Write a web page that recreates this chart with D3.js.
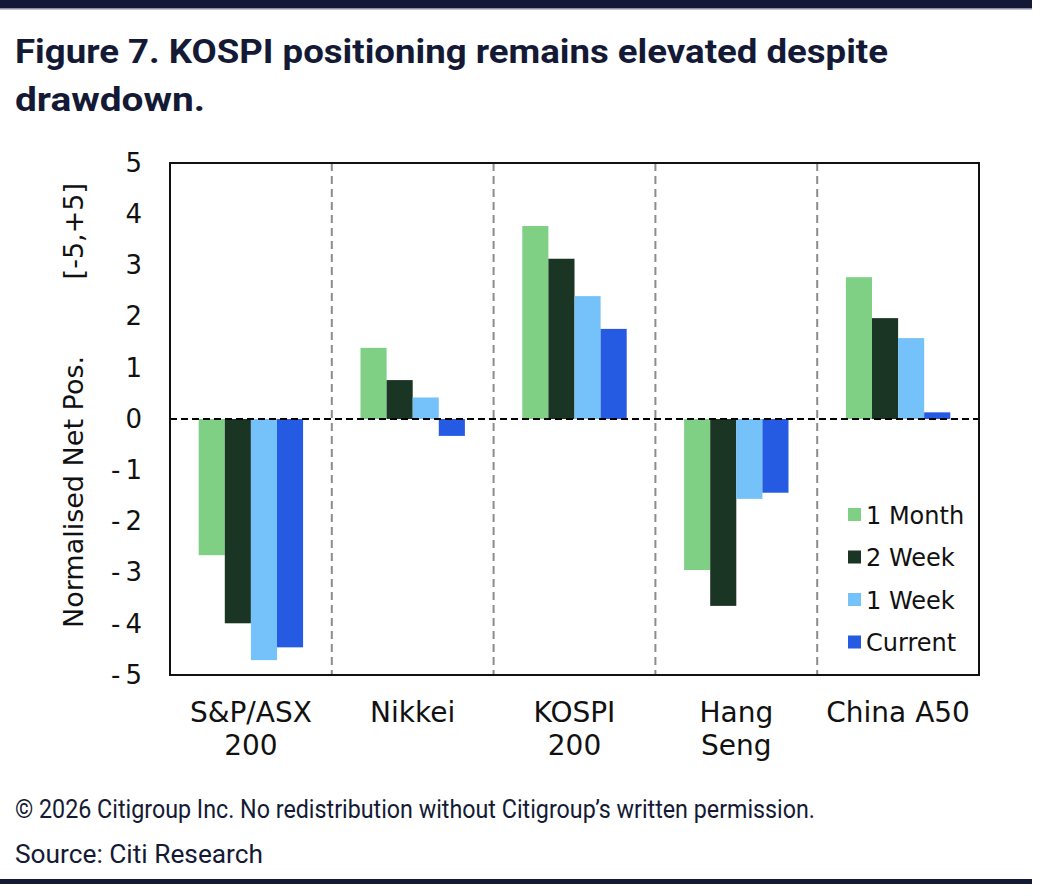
<!DOCTYPE html>
<html>
<head>
<meta charset="utf-8">
<title>Figure 7</title>
<script src="https://d3js.org/d3.v7.min.js"></script>
<style>
  body { margin: 0; background: #fff; }
  svg text { font-family: "DejaVu Sans", "Liberation Sans", Arial, sans-serif; }
</style>
</head>
<body>
<svg id="chart" width="1044" height="896"></svg>
<script>
// chart data
var categories = ["S&P/ASX 200", "Nikkei", "KOSPI 200", "Hang Seng", "China A50"];
var catLines = [["S&P/ASX", "200"], ["Nikkei"], ["KOSPI", "200"], ["Hang", "Seng"], ["China A50"]];
var seriesNames = ["1 Month", "2 Week", "1 Week", "Current"];
var oneMonth = [-2.66, 1.39, 3.77, -2.95, 2.77];
var twoWeek  = [-3.99, 0.76, 3.13, -3.65, 1.97];
var oneWeek  = [-4.71, 0.42, 2.40, -1.56, 1.58];
var current  = [-4.46, -0.33, 1.76, -1.44, 0.13];
var yTicks = [5, 4, 3, 2, 1, 0, -1, -2, -3, -4, -5];
var colors = ["#7fcf84", "#1b3524", "#75c2fb", "#255be3"];

var seriesValues = [oneMonth, twoWeek, oneWeek, current];

var svg = d3.select("#chart");
var navy = "#141a35";

// top and bottom rules
svg.append("rect").attr("x", 0).attr("y", 0).attr("width", 1032).attr("height", 8).attr("fill", navy);
svg.append("rect").attr("x", 0).attr("y", 8).attr("width", 1032).attr("height", 1.5).attr("fill", "#8a8fa3");
svg.append("rect").attr("x", 0).attr("y", 879).attr("width", 1032).attr("height", 5).attr("fill", navy);

// title
var title = svg.append("g").attr("fill", navy).style("font-weight", "700");
title.append("text").attr("x", 15).attr("y", 63)
  .style("font-family", "Roboto, sans-serif").style("font-size", "34px")
  .attr("textLength", 873).attr("lengthAdjust", "spacingAndGlyphs")
  .text("Figure 7. KOSPI positioning remains elevated despite");
title.append("text").attr("x", 15).attr("y", 111)
  .style("font-family", "Roboto, sans-serif").style("font-size", "34px")
  .attr("textLength", 190).attr("lengthAdjust", "spacingAndGlyphs")
  .text("drawdown.");

// footer
svg.append("text").attr("x", 15).attr("y", 818).attr("fill", navy)
  .style("font-family", "Roboto, sans-serif").style("font-size", "25px")
  .attr("textLength", 800).attr("lengthAdjust", "spacingAndGlyphs")
  .text("\u00a9 2026 Citigroup Inc. No redistribution without Citigroup\u2019s written permission.");
svg.append("text").attr("x", 15).attr("y", 863).attr("fill", navy)
  .style("font-family", "Roboto, sans-serif").style("font-size", "25px")
  .attr("textLength", 248).attr("lengthAdjust", "spacingAndGlyphs")
  .text("Source: Citi Research");

// plot area
var plotL = 170, plotR = 979, plotT = 163, plotB = 675;

var x = d3.scaleBand().domain(categories).range([plotL, plotR]).paddingInner(0).paddingOuter(0);
var x1 = d3.scaleBand().domain(seriesNames).range([0, x.bandwidth()]).paddingInner(0).paddingOuter(1.1);
var y = d3.scaleLinear().domain([-5, 5]).range([plotB, plotT]);

// category separators
svg.append("g").selectAll("line")
  .data(categories.slice(1))
  .enter().append("line")
    .attr("x1", function(d) { return x(d); })
    .attr("x2", function(d) { return x(d); })
    .attr("y1", plotT).attr("y2", plotB)
    .attr("stroke", "#8c8c8c").attr("stroke-width", 2)
    .attr("stroke-dasharray", "8,5");

// bars
var groups = svg.append("g").selectAll("g")
  .data(seriesNames)
  .enter().append("g")
    .attr("fill", function(d, i) { return colors[i]; });

groups.selectAll("rect")
  .data(function(d, i) {
    return categories.map(function(c, j) { return {cat: c, s: d, v: seriesValues[i][j]}; });
  })
  .enter().append("rect")
    .attr("x", function(d) { return x(d.cat) + x1(d.s); })
    .attr("width", x1.bandwidth())
    .attr("y", function(d) { return y(Math.max(0, d.v)); })
    .attr("height", function(d) { return Math.abs(y(d.v) - y(0)); });

// zero line
svg.append("line")
  .attr("x1", plotL).attr("x2", plotR)
  .attr("y1", y(0)).attr("y2", y(0))
  .attr("stroke", "#000").attr("stroke-width", 2)
  .attr("stroke-dasharray", "7,4");

// frame
svg.append("rect")
  .attr("x", plotL).attr("y", plotT)
  .attr("width", plotR - plotL).attr("height", plotB - plotT)
  .attr("fill", "none").attr("stroke", "#111").attr("stroke-width", 2);

// y axis (plain hyphen like the original)
var yAxis = svg.append("g")
  .attr("transform", "translate(" + plotL + ",0)")
  .call(d3.axisLeft(y).tickValues(yTicks).tickSize(0).tickPadding(28)
    .tickFormat(function(d) { return d < 0 ? "-\u2009" + Math.abs(d) : String(d); }));
yAxis.select(".domain").remove();
yAxis.selectAll("text")
  .attr("fill", "#111")
  .style("font-family", "DejaVu Sans, sans-serif")
  .style("font-size", "26px");

// y label
var yl = svg.append("g").attr("transform", "translate(83,0) rotate(-90)")
  .attr("fill", "#111").style("font-size", "27px");
yl.append("text").attr("x", -628).attr("y", 0).attr("text-anchor", "start")
  .text("Normalised Net Pos.");
yl.append("text").attr("x", -183).attr("y", 0).attr("text-anchor", "end")
  .text("[-5,+5]");

// x labels
var xl = svg.append("g").selectAll("text")
  .data(categories)
  .enter().append("text")
    .attr("x", function(d) { return x(d) + x.bandwidth() / 2; })
    .attr("y", 722)
    .attr("text-anchor", "middle")
    .attr("fill", "#111")
    .style("font-size", "28px");
xl.selectAll("tspan")
  .data(function(d, i) { return catLines[i]; })
  .enter().append("tspan")
    .attr("x", function() { return d3.select(this.parentNode).attr("x"); })
    .attr("dy", function(d, i) { return i === 0 ? 0 : 33; })
    .text(function(d) { return d; });

// legend
var legend = svg.append("g").selectAll("g")
  .data(seriesNames)
  .enter().append("g")
    .attr("transform", function(d, i) { return "translate(848," + (515 + i * 42.5) + ")"; });
legend.append("rect")
  .attr("x", 0).attr("y", -7).attr("width", 13).attr("height", 13)
  .attr("fill", function(d, i) { return colors[i]; });
legend.append("text")
  .attr("x", 18).attr("y", 8.5)
  .attr("fill", "#111")
  .style("font-size", "24px")
  .text(function(d) { return d; });
</script>
</body>
</html>
